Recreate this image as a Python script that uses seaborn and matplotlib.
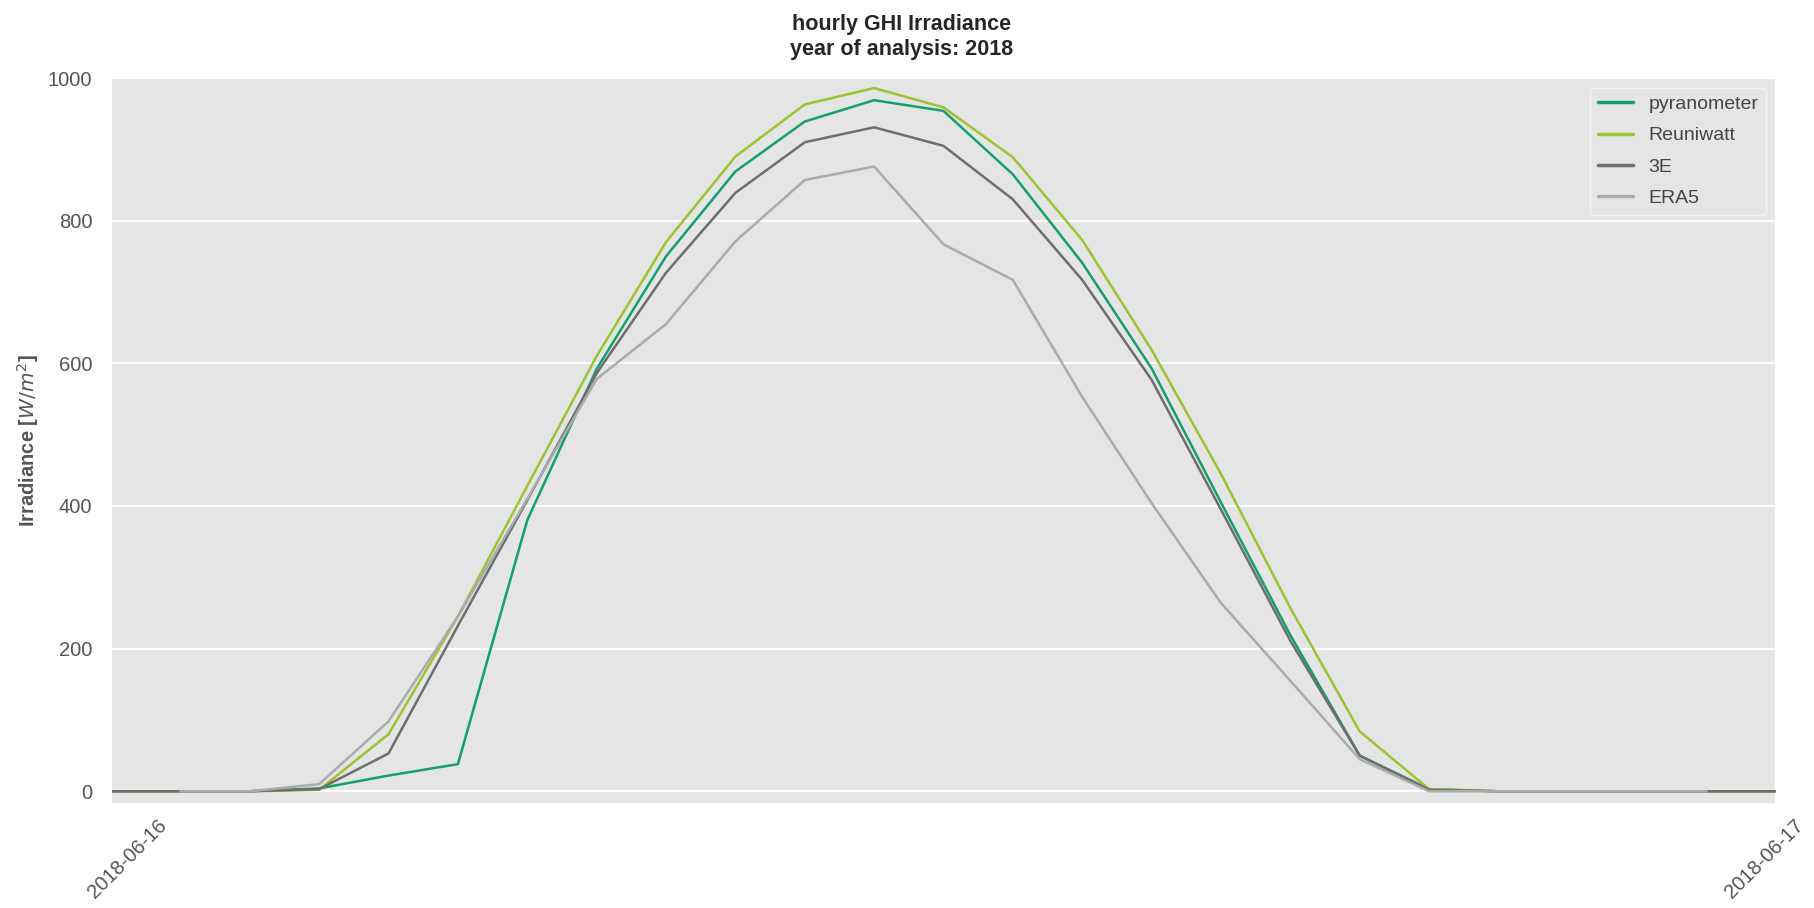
import numpy as np
import pandas as pd
import matplotlib
matplotlib.use('Agg')
import matplotlib.pyplot as plt
import matplotlib.dates as mdates
import matplotlib.transforms as mtransforms
from matplotlib.lines import Line2D
import seaborn as sns

# hourly GHI, 2018-06-16 00:00 .. 2018-06-17 00:00
hours = pd.date_range('2018-06-16 00:00', '2018-06-17 00:00', freq='h')

pyranometer = [0, 0, 0, 4, 22, 38, 380, 592, 750, 869, 939, 969, 954,
               865, 741, 593, 405, 219, 50, 3, 0, 0, 0, 0, 0]
reuniwatt = [0, 0, 0, 2, 80, 245, 428, 610, 770, 890, 963, 986, 959,
             889, 773, 619, 445, 257, 84, 3, 0, 0, 0, 0, 0]
e3 = [0, 0, 0, 3, 53, 232, 408, 586, 727, 839, 910, 931, 905,
      830, 717, 577, 395, 211, 50, 2, 0, 0, 0, 0, 0]
era5 = [np.nan, 0, 0, 10, 98, 245, 410, 578, 655, 771, 857, 876, 767,
        717, 553, 404, 264, 155, 45, 0, 0, 0, 0, 0, np.nan]

series_names = ['pyranometer', 'Reuniwatt', '3E', 'ERA5']
colors = ['#14a06c', '#9cc432', '#6e6e6e', '#ababab']

df = pd.DataFrame({'time': hours, 'pyranometer': pyranometer,
                   'Reuniwatt': reuniwatt, '3E': e3, 'ERA5': era5})
df_long = df.melt(id_vars='time', var_name='source', value_name='GHI').dropna()

sns.set_style('darkgrid', {'axes.facecolor': '#E5E5E5', 'grid.color': 'white'})
plt.rcParams['font.family'] = ['Liberation Sans', 'DejaVu Sans']

fig, ax = plt.subplots(figsize=(18.14, 9.08), dpi=100)
fig.subplots_adjust(left=0.0612, right=0.979, bottom=0.116, top=0.914)

sns.lineplot(data=df_long, x='time', y='GHI', hue='source',
             hue_order=series_names, palette=colors, linewidth=1.8,
             legend=False, ax=ax)

ax.set_xlim(hours[0], hours[-1])
ax.set_ylim(-16, 1000)
ax.set_yticks([0, 200, 400, 600, 800, 1000])
ax.set_xticks([hours[0], hours[-1]])
ax.xaxis.set_major_formatter(mdates.DateFormatter('%Y-%m-%d'))
ax.tick_params(axis='x', labelrotation=45, labelsize=14.5, labelcolor='#555555', pad=6)
ax.tick_params(axis='y', labelsize=14.5, labelcolor='#555555', pad=10)
ax.grid(True, color='white', linewidth=1.5)

# nudge the two date labels like in the original
xlabels = ax.get_xticklabels()
for lab, dx in zip(xlabels, [12, -8]):
    lab.set_transform(lab.get_transform() +
                      mtransforms.ScaledTranslation(dx / 72, 0, fig.dpi_scale_trans))

ax.set_xlabel('')
ax.set_ylabel('Irradiance [$W/m^2$]', fontsize=14.5, fontweight='bold',
              color='#555555')
ax.yaxis.set_label_coords(-0.042, 0.5)
fig.suptitle('hourly GHI Irradiance\nyear of analysis: 2018', fontsize=15.5,
             fontweight='bold', x=0.497, y=0.985, va='top', linespacing=1.25)

handles = [Line2D([0], [0], color=c, linewidth=2.5) for c in colors]
leg = ax.legend(handles, series_names, loc='upper right', fontsize=14,
                frameon=True, facecolor='#E5E5E5', edgecolor='#f2f2f2',
                framealpha=1, handlelength=1.8, labelspacing=0.7)
for t in leg.get_texts():
    t.set_color('#444444')

plt.savefig('out.png', dpi=100)
